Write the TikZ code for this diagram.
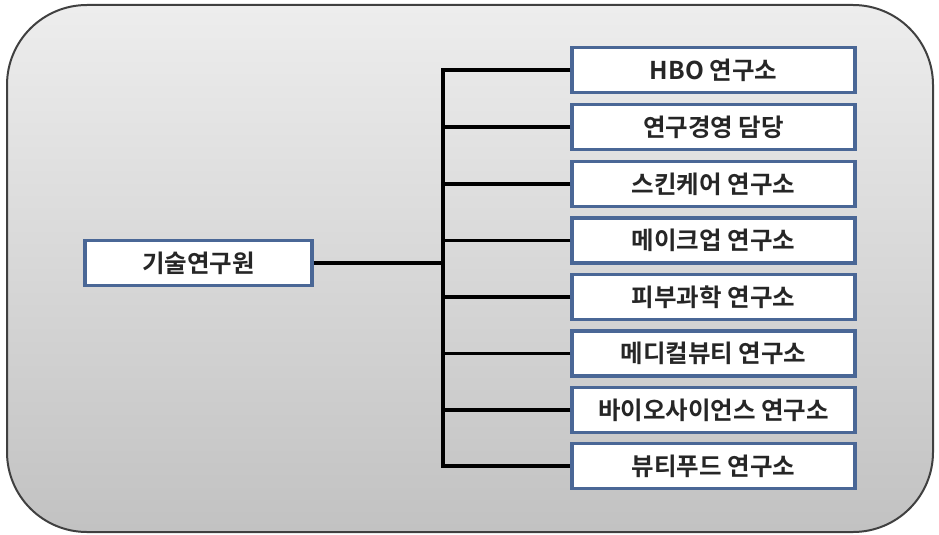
\documentclass[tikz,border=0pt]{standalone}
\usepackage{fontspec}
\setmainfont{Noto Sans CJK KR}[BoldFont={* Bold}]
\newfontfamily\kr{Noto Sans CJK KR Bold}
\definecolor{boxblue}{HTML}{4A6796}
\tikzset{
  unit/.style={draw=boxblue, line width=3.2pt, fill=white, minimum width=283pt, minimum height=45pt, inner sep=0pt, font=\kr\fontsize{24.5}{28}\selectfont, text=black!85},
  wire/.style={line width=3.6pt, black},
}
\begin{document}
\begin{tikzpicture}[x=1pt,y=1pt]
\useasboundingbox (0,0) rectangle (939,-535);
\shade[top color=black!7, bottom color=black!24, draw=black!75, line width=2pt, rounded corners=80pt] (7,-5) rectangle (933,-532);
\node[unit, minimum width=227pt] (root) at (198.5,-263) {기술연구원};
\node[unit] (u1) at (713.5,-70) {HBO 연구소};
\node[unit] (u2) at (713.5,-127) {연구경영 담당};
\node[unit] (u3) at (713.5,-184) {스킨케어 연구소};
\node[unit] (u4) at (713.5,-240.5) {메이크업 연구소};
\node[unit] (u5) at (713.5,-297) {피부과학 연구소};
\node[unit] (u6) at (713.5,-353.5) {메디컬뷰티 연구소};
\node[unit] (u7) at (713.5,-410) {바이오사이언스 연구소};
\node[unit] (u8) at (713.5,-466) {뷰티푸드 연구소};
\coordinate (bus) at (443,-263);
\draw[wire] (root.east) -- (bus);
\draw[wire] (u1.west) -| (bus |- u8.west) -- (u8.west);
\foreach \i in {2,...,7}{
  \draw[wire] (u\i.west) -- (bus |- u\i.west);
}
\end{tikzpicture}
\end{document}
